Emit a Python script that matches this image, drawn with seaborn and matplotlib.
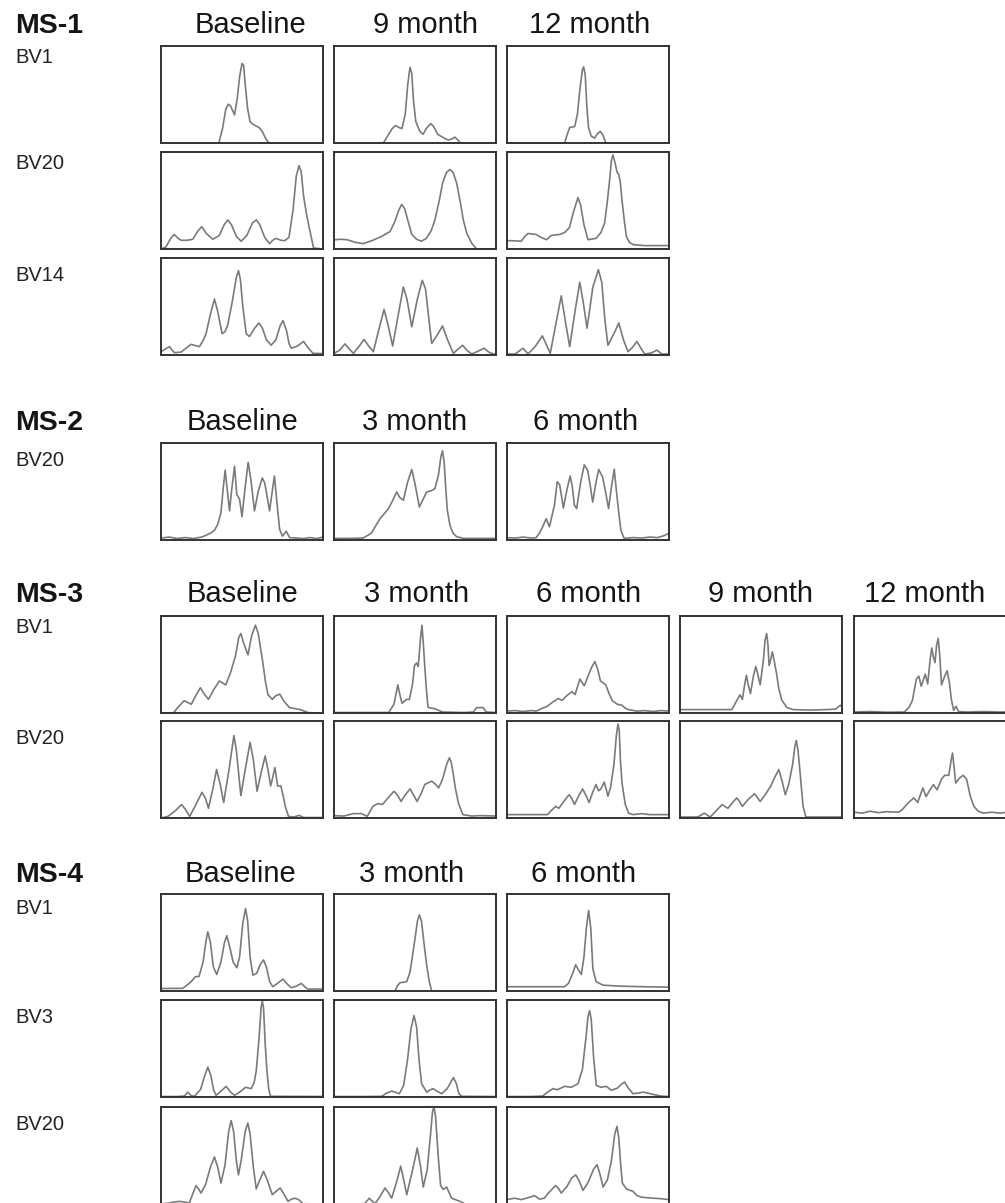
import matplotlib
matplotlib.use("Agg")
import matplotlib.pyplot as plt
import seaborn as sns
import pandas as pd

# ---------------------------------------------------------------------------
# CDR3 spectratype traces, one list per panel.
# Each point is (position along the panel in %, relative signal in %).
# ---------------------------------------------------------------------------

# MS-1
MS1_BV1_BASELINE = [(0, 0), (35.7, 0), (38, 15), (40, 35), (41.6, 40), (43, 38), (45.4, 29), (47, 45),
                    (48.5, 68), (50, 82), (51, 80), (52, 60), (53.5, 35), (55, 22), (57, 19), (60.5, 16),
                    (62.5, 12), (64.5, 5), (66.6, 0), (100, 0)]
MS1_BV1_9M = [(0, 0), (30.5, 0), (33, 7), (36, 15), (38, 18), (40, 16), (42, 15), (44, 30), (45.5, 60),
              (46.9, 78), (48, 72), (49, 45), (50.5, 22), (53, 12), (55, 9), (57, 15), (59.7, 20), (61.5, 17),
              (64, 9), (67, 6), (70.5, 3), (72.5, 4), (74.7, 6), (76.5, 3), (78, 0), (100, 0)]
MS1_BV1_12M = [(0, 0), (35.6, 0), (37, 8), (38.7, 16), (41.8, 17), (43.5, 30), (45, 55), (46.5, 75),
               (47.3, 78.5), (48.3, 70), (49.2, 40), (50.3, 16), (52, 7), (54, 5), (56, 10), (57.6, 12),
               (59.3, 8), (61, 0), (100, 0)]
MS1_BV20_BASELINE = [(0, 0), (3, 2), (6, 11), (8.2, 15), (10.5, 11), (12.4, 9), (16, 9), (19.6, 10), (22.5, 18),
                     (25.2, 23), (28, 16), (32, 10), (36, 14), (39, 25), (41.2, 30), (43.5, 25), (46.5, 13),
                     (49.5, 8), (53, 14), (56.5, 27), (58.8, 30), (61, 25), (64, 12), (67, 5.5), (69, 9),
                     (71, 11), (74, 9), (76.3, 8.6), (79, 12), (81.5, 40), (83.5, 75), (85.2, 86), (86.5, 80),
                     (88, 55), (89.7, 37), (92, 18), (94.2, 1), (100, 0)]
MS1_BV20_9M = [(0, 9.5), (4, 10), (8, 9.6), (13, 7), (18, 5.5), (24, 9), (29.4, 13), (34.6, 18), (37.5, 28),
               (40, 40), (41.8, 46), (43.5, 42), (46, 27), (48, 15), (51, 10), (54, 8), (57, 11), (60, 19),
               (62.3, 30), (65, 50), (67, 68), (69.5, 79), (71.6, 82), (73.5, 79), (75.7, 68), (78, 48),
               (79.8, 30), (82, 16), (85, 6), (88, 0), (100, 0)]
MS1_BV20_12M = [(0, 8.6), (4, 8.5), (8.8, 8), (11, 13), (13, 16), (15.5, 15.5), (18, 15), (21, 12), (24.3, 9.6),
                (27.4, 14), (32.5, 15), (35.6, 17), (38.5, 22), (41, 38), (43.8, 53), (45.5, 45), (47.5, 25),
                (50, 9.6), (55, 11), (58, 17), (60.3, 27), (62, 50), (63.4, 72), (64.5, 92), (65.4, 97),
                (66.5, 90), (68, 79), (69, 77), (70, 68), (71, 50), (72.5, 28), (73.7, 13), (75.5, 7),
                (77.8, 4.5), (85, 3.5), (100, 3.5)]
MS1_BV14_BASELINE = [(0, 3.4), (2.5, 6), (5.2, 8.6), (8.2, 2.4), (12.4, 3), (15.5, 7), (18.6, 11), (20.6, 10),
                     (23.7, 8.6), (26, 15), (27.8, 22), (30.5, 42), (33, 57.6), (35, 45), (37.7, 22), (39.5, 24),
                     (41.2, 31), (44, 55), (46.5, 80), (47.8, 87), (49, 78), (50.5, 50), (52.6, 22), (54.6, 19),
                     (57.5, 27), (60.4, 33), (62.5, 28), (65, 16), (68, 10), (71, 16), (73.5, 30), (75.3, 35.5),
                     (77.5, 25), (79, 12), (80.4, 7), (84, 9), (88, 14), (91, 7), (93.8, 1.7), (100, 1.5)]
MS1_BV14_9M = [(0, 1.7), (3.5, 5), (6.8, 11.4), (9.5, 6), (12, 1.7), (15.5, 9), (18.5, 16), (21.5, 9), (24.3, 3.4),
               (27.5, 25), (30.9, 47), (33.5, 30), (36.2, 9.3), (39.5, 40), (42.8, 70), (45, 58), (48, 29),
               (51.5, 58), (54.5, 77), (56.5, 68), (58.5, 38), (60.3, 12), (63.5, 20), (67, 30), (70, 16),
               (73.7, 1.7), (76.5, 6), (79.4, 10), (82, 5), (85, 1), (89, 4), (92.6, 7), (95.5, 3), (98.4, 1),
               (100, 1)]
MS1_BV14_12M = [(0, 1), (5, 1), (9.9, 7), (13, 1), (17.5, 9), (21.8, 19.7), (24.5, 10), (26.7, 1.7), (30.5, 35),
                (33.5, 61), (36, 35), (38.7, 8.6), (42, 45), (44.9, 75), (47, 55), (49.4, 27.6), (53, 70),
                (56.4, 88), (58.5, 75), (60.5, 35), (62.3, 10), (66, 22), (69, 33), (72, 15), (74.7, 3.4),
                (77.5, 8), (80.2, 14), (83, 6), (85, 1), (89, 2), (92.6, 5), (95.5, 1), (100, 1)]

# MS-2
MS2_BV20_BASELINE = [(0, 2), (5, 3), (10, 1.5), (15, 2.5), (20, 1.5), (25, 3), (28, 5), (31, 7.5), (33, 10),
                     (35, 16), (37, 28), (38.5, 55), (39.6, 72), (41, 50), (42.3, 30), (43.5, 50), (45.4, 76),
                     (46.8, 47), (48.5, 42), (50, 24), (52, 55), (53.8, 80), (55.5, 62), (57.7, 30), (60, 50),
                     (62.5, 64), (64, 59), (65.5, 45), (67, 30), (68.5, 48), (70, 66), (71.5, 40), (73.2, 11),
                     (75, 4), (77.3, 9), (79.4, 2.4), (84, 2), (88, 1.5), (92, 2.5), (96, 1.5), (100, 3)]
MS2_BV20_3M = [(0, 1.7), (10, 1.7), (18, 2), (23, 7), (28.4, 22), (33.5, 32), (36, 40), (38.7, 49.5), (40.5, 44),
               (42.8, 41), (45.5, 60), (48, 72.7), (50, 58), (52.7, 34), (55, 42), (57.2, 49.5), (60.3, 51),
               (62.3, 53), (64.4, 66.5), (66, 86), (67, 92), (68, 80), (69, 53), (70, 30), (71.6, 15),
               (73.5, 7), (75.7, 3.4), (80, 1.7), (100, 1.7)]
MS2_BV20_6M = [(0, 2.4), (5, 2), (10, 3), (15, 2), (18, 2.4), (20, 7), (22, 13.6), (24.2, 22), (26.2, 13.6),
               (29.3, 36), (31, 60), (32.5, 57), (34.8, 33), (37, 52), (39, 66), (40.3, 55), (41.6, 36),
               (43, 32.4), (45.5, 60), (47.7, 77.5), (49.8, 71.7), (51.5, 55), (52.9, 39), (55, 60),
               (56.6, 72.7), (59, 65), (61, 48), (62.7, 32.4), (64.5, 55), (66.2, 73), (67.6, 49.5), (69, 28),
               (70.3, 10), (72.3, 1.7), (78, 2.5), (83, 2), (88, 3), (93, 2.5), (97, 4.5), (100, 7)]

# MS-3
MS3_BV1_BASELINE = [(0, 0), (7.7, 0), (10.5, 6), (14.3, 12.7), (18.7, 9), (21.5, 18), (24.3, 26), (26.5, 20),
                    (29.3, 14), (32.5, 24), (36, 33), (40, 29), (43, 42), (46, 59), (48, 78), (49.3, 82),
                    (51, 72), (53.7, 60), (56, 80), (58.3, 90.5), (60, 82), (62.7, 54), (64.5, 32), (66, 19),
                    (68.7, 14), (71, 18), (73.3, 19.4), (76, 12), (79.3, 5.6), (86, 3.5), (91, 0.3), (100, 0)]
MS3_BV1_3M = [(0, 0.5), (20, 0.5), (33.8, 0.5), (37, 9), (39.4, 29), (40.5, 20), (42, 10), (44.7, 14), (46.5, 14),
              (48.5, 30), (49.7, 49), (51, 51.6), (52, 48), (53.3, 75), (54.3, 90.5), (55.2, 70), (56, 49),
              (57, 25), (58, 6), (60, 5), (62, 4.6), (67, 1), (80, 0.5), (86, 1), (88, 5.6), (92, 5.6),
              (94, 1), (100, 0.5)]
MS3_BV1_6M = [(0, 2), (5, 2.5), (10, 1.5), (15, 2.5), (18, 2), (22, 5), (25, 7), (28, 11), (31.7, 15), (34, 13),
              (37, 18), (40, 22), (42, 19), (45, 35), (47.7, 28), (50.5, 40), (52.5, 48), (54.3, 53), (56, 45),
              (57.7, 33), (61, 29), (63, 20), (65, 12.7), (68, 9), (71, 8), (73, 5), (75, 3.5), (80, 2),
              (85, 2.5), (90, 1.5), (95, 2.5), (100, 2)]
MS3_BV1_9M = [(0, 3.5), (15, 3.5), (32, 3.5), (35, 12.7), (37, 18.7), (38.5, 14), (40, 30), (41, 39), (42, 30),
              (43.5, 20), (45.3, 38), (46.8, 48), (48, 40), (49.5, 29), (51.5, 55), (52.5, 75), (53.5, 82),
              (54.3, 70), (55, 49), (56, 55), (57, 63), (58, 55), (59.5, 41.7), (61, 25), (62.8, 13.4),
              (66, 5.6), (70, 3.5), (80, 3), (90, 3.5), (96, 4), (99, 8), (100, 6)]
MS3_BV1_12M = [(0, 1), (10, 1.5), (20, 0.8), (31, 1), (34, 6), (36, 12.7), (38.5, 35), (40, 38), (41.5, 27.6),
               (44, 40), (45.5, 30), (47, 55), (48, 67), (49, 58), (50, 52), (51, 70), (52, 77), (53, 58),
               (54, 29), (56, 38), (57.5, 43.5), (59, 30), (60, 15), (61.5, 2.8), (63, 7), (64.5, 1.5),
               (70, 1), (80, 1.5), (90, 1), (100, 1.5)]
MS3_BV20_BASELINE = [(0, 0), (4.3, 1.7), (8.5, 7), (12.7, 13.8), (15, 9), (17.7, 1.7), (21, 12), (25.3, 26.5),
                     (27.5, 20), (29.3, 10), (32, 30), (34.3, 50), (36.5, 35), (38.7, 16), (42, 50), (45, 85),
                     (46.5, 70), (49.3, 23), (52, 50), (55, 78), (57, 60), (59.3, 27.6), (62, 48), (64.3, 64),
                     (66, 50), (67.7, 33), (69, 42), (70.3, 52), (71.2, 42), (72, 33), (74, 33), (75.5, 22),
                     (76.7, 12), (78.7, 1.7), (82, 1), (85.3, 2.8), (88, 0.5), (100, 0.5)]
MS3_BV20_3M = [(0, 2.4), (6, 2), (12, 4.5), (17, 4.5), (20.5, 1.7), (24, 12), (27, 14.8), (30, 14), (33, 20),
               (37, 27.6), (39, 24), (41.4, 17), (44, 24), (47, 30), (49, 24), (51.3, 17), (54, 26), (56, 34.5),
               (60.3, 38), (62.5, 35), (64.6, 31), (67, 40), (69.5, 55), (71.2, 62), (72.3, 58), (73.5, 46.5),
               (75, 30), (76.8, 15.5), (79.5, 3.5), (85, 2), (90, 2.5), (100, 2)]
MS3_BV20_6M = [(0, 3.5), (10, 3.5), (20, 3.5), (25, 3.5), (27.5, 8), (30, 12), (32, 10), (35, 17), (38.3, 24),
               (40, 20), (41.7, 14), (44, 22), (46.7, 30), (48.5, 24), (50.7, 16), (53, 27), (55, 34.5),
               (56.5, 28), (58, 30), (60, 37), (61.2, 30), (62.3, 22.4), (64, 32), (66, 55), (67.5, 85),
               (68.5, 97), (69.3, 90), (70, 60), (71, 36), (73, 14), (75, 5), (78, 3.5), (83, 4.5), (88, 3.5),
               (100, 3.5)]
MS3_BV20_9M = [(0, 1), (11, 1), (15, 5), (18.6, 1), (21, 5), (23, 8.6), (26, 13.8), (29.6, 10), (32.5, 16),
               (35, 20.7), (36.8, 17), (38.5, 12), (42, 19), (46, 25), (47.8, 21), (49.5, 17), (53, 25),
               (56, 33), (58.5, 42), (61, 50), (63, 38), (65, 24), (67, 34), (69.5, 55), (71, 75), (71.8, 80),
               (72.8, 70), (73.8, 53), (75, 30), (76, 12), (77.7, 1), (100, 1)]
MS3_BV20_12M = [(0, 6), (5, 5), (10, 7), (15, 5.5), (20, 6.5), (27.6, 6), (30, 9), (32.5, 13.8), (35, 18),
                (37, 20.7), (39.3, 16), (42.5, 31), (44.5, 22), (46.5, 28), (49, 34.5), (51.3, 29), (54, 40),
                (56, 44), (58.5, 44), (60, 60), (60.8, 67), (61.8, 52), (62.8, 36), (65, 41), (67.4, 44),
                (69.5, 40), (71.8, 22.4), (74, 12), (76.7, 7), (80, 5), (85, 6), (90, 5), (95, 6), (100, 5)]

# MS-4
MS4_BV1_BASELINE = [(0, 2.5), (7, 2.7), (13.4, 2.7), (16, 6), (18.6, 9.6), (21.2, 14.7), (23.5, 15), (26, 30),
                    (27.8, 52), (28.9, 61), (30.5, 50), (32.3, 25), (34.4, 17), (37, 30), (39.2, 50), (40.6, 57),
                    (42.5, 45), (44.5, 30), (46.8, 24), (48.5, 35), (50.5, 70), (52.2, 85), (53.5, 72), (55, 35),
                    (56.7, 16.4), (59, 18), (61.5, 28), (63.3, 32), (65.2, 24), (67, 10), (69, 4.4), (72, 8),
                    (75.3, 12.3), (78, 7), (80.4, 3.4), (83.5, 5), (86.6, 7.8), (89, 4), (90.7, 2), (100, 2)]
MS4_BV1_3M = [(0, 0), (37.7, 0), (39, 5), (40.7, 8.5), (44.9, 9.6), (47, 20), (49.5, 48), (51.5, 72), (52.7, 78.5),
              (54, 72), (55.5, 50), (57.2, 26.6), (58.8, 10), (60.3, 0), (100, 0)]
MS4_BV1_6M = [(0, 4.4), (20, 4.4), (35.6, 4.4), (38, 8), (40.5, 18), (42.4, 27), (44, 22), (45.9, 17), (47.5, 35),
              (49, 65), (50.4, 83), (51.7, 65), (53, 23), (55, 9.6), (59.3, 6), (70, 5), (85, 4.4), (100, 4)]
MS4_BV3_BASELINE = [(0, 0.5), (10, 0.5), (14.4, 1), (16.5, 5), (18.5, 1.5), (20.6, 0.7), (24.5, 8), (27, 22),
                    (28.9, 30.8), (30.8, 22), (32.5, 7), (34, 1.7), (37, 6), (40.2, 11), (43, 5), (45.4, 1.7),
                    (48.5, 5), (52.2, 10), (55.7, 8.6), (57.5, 15), (58.8, 27), (60.5, 60), (61.8, 92), (62.5, 99),
                    (63.3, 92), (64.3, 55), (65.4, 27), (66.5, 8), (67.6, 0.7), (100, 0.5)]
MS4_BV3_3M = [(0, 0.5), (20, 0.5), (29.4, 0.7), (32.5, 4), (35.6, 6), (38, 5), (40.3, 3.4), (43, 12), (45.5, 40),
              (47.5, 70), (49.4, 84), (51, 72), (52.5, 38), (54.1, 13.7), (57.2, 5), (59.5, 7.5), (61.3, 8.6),
              (63.5, 6), (66.5, 3.4), (70, 9), (73.7, 20), (75.5, 14), (77, 4), (78.8, 0.7), (100, 0.5)]
MS4_BV3_6M = [(0, 0.5), (15, 0.5), (22, 1), (25, 5), (28.4, 8.6), (31, 7.5), (33, 9), (35.6, 11), (39.7, 10),
              (43.8, 13.7), (46.5, 28), (48.8, 62), (50, 83), (51, 89), (52, 80), (53.5, 40), (55.1, 12), (58, 10),
              (61.3, 11), (64.4, 7), (68, 9), (70.5, 13), (72.6, 15.4), (75, 9), (77.8, 3.4), (81, 4), (84, 5),
              (87, 4), (90, 2.7), (95, 1), (100, 0.5)]
MS4_BV20_BASELINE = [(0, 0), (5, 1), (8, 2), (11.3, 2.7), (14.5, 2), (17.5, 1), (19.5, 10), (21.6, 19), (23, 16),
                     (24.7, 11.3), (27.5, 20), (30.5, 38), (33, 48.5), (35, 38), (37, 21.6), (39.5, 40),
                     (41.8, 75), (43.3, 86), (44.8, 75), (46.5, 45), (47.8, 30), (49.5, 45), (52, 75), (53.6, 83.5),
                     (55, 72), (57, 38), (58.8, 15.5), (61, 25), (63.3, 33.7), (65.5, 25), (68.7, 9.6), (71, 13),
                     (73.6, 16.5), (76, 10), (78.4, 2.7), (80.5, 5), (82.5, 6), (85, 4.5), (87.6, 0.3), (100, 0)]
MS4_BV20_3M = [(0, 0), (15, 0), (19, 0.5), (21.8, 6), (23.5, 3), (25.3, 0.3), (28.5, 8), (31.5, 16.5), (33.5, 12),
               (35.6, 6), (38.5, 22), (41.2, 39), (43, 25), (44.9, 9.6), (48.5, 35), (51.4, 57.7), (53.3, 40),
               (55.1, 17.5), (57.5, 35), (59.5, 70), (60.8, 95), (61.7, 100), (62.7, 90), (64.3, 50), (65.8, 19),
               (67.5, 15), (69.5, 17.5), (71, 12), (72.6, 6), (77.8, 2.7), (80.9, 0), (100, 0)]
MS4_BV20_6M = [(0, 4.5), (4.7, 6), (8.8, 4.5), (13, 6.5), (17, 8.6), (20, 5), (23, 6), (26.5, 13), (30, 19),
               (31.8, 16), (33.5, 11.3), (37, 18), (40, 27), (42.4, 30), (44.5, 24), (46.9, 14), (50, 22),
               (53.5, 36), (55.6, 40.5), (57.5, 30), (59.3, 17.5), (62, 25), (64.5, 45), (66.5, 72), (67.9, 80),
               (69, 68), (70.2, 40), (71.2, 21.6), (73.7, 15.5), (77.8, 13), (80, 9), (82.9, 7), (90, 6),
               (95, 5.5), (100, 4.5)]

# Column titles and row labels per patient
MS1_TIMES = ["Baseline", "9 month", "12 month"]
MS2_TIMES = ["Baseline", "3 month", "6 month"]
MS3_TIMES = ["Baseline", "3 month", "6 month", "9 month", "12 month"]
MS4_TIMES = ["Baseline", "3 month", "6 month"]
MS1_FAMILIES = ["BV1", "BV20", "BV14"]
MS2_FAMILIES = ["BV20"]
MS3_FAMILIES = ["BV1", "BV20"]
MS4_FAMILIES = ["BV1", "BV3", "BV20"]

# ---------------------------------------------------------------------------
# Layout (pixel units on a 1005 x 1203 canvas)
# ---------------------------------------------------------------------------
W, H = 1005, 1203
COL_X = [161, 334, 507, 680, 854]
PANEL_W, PANEL_H = 162, 97

BLOCKS = [
    dict(name="MS-1", baseline=33, times=MS1_TIMES, title_dx=[8, 10, 2],
         families=MS1_FAMILIES, tops=[46, 152, 258], label_base=[63, 169, 281],
         traces=[[MS1_BV1_BASELINE, MS1_BV1_9M, MS1_BV1_12M],
                 [MS1_BV20_BASELINE, MS1_BV20_9M, MS1_BV20_12M],
                 [MS1_BV14_BASELINE, MS1_BV14_9M, MS1_BV14_12M]]),
    dict(name="MS-2", baseline=430, times=MS2_TIMES, title_dx=[0, 0, -2],
         families=MS2_FAMILIES, tops=[443], label_base=[466],
         traces=[[MS2_BV20_BASELINE, MS2_BV20_3M, MS2_BV20_6M]]),
    dict(name="MS-3", baseline=602, times=MS3_TIMES, title_dx=[0, 2, 1, -1, -10],
         families=MS3_FAMILIES, tops=[616, 721], label_base=[633, 744],
         traces=[[MS3_BV1_BASELINE, MS3_BV1_3M, MS3_BV1_6M, MS3_BV1_9M, MS3_BV1_12M],
                 [MS3_BV20_BASELINE, MS3_BV20_3M, MS3_BV20_6M, MS3_BV20_9M, MS3_BV20_12M]]),
    dict(name="MS-4", baseline=882, times=MS4_TIMES, title_dx=[-2, -3, -4],
         families=MS4_FAMILIES, tops=[894, 1000, 1107], label_base=[914, 1023, 1130],
         traces=[[MS4_BV1_BASELINE, MS4_BV1_3M, MS4_BV1_6M],
                 [MS4_BV3_BASELINE, MS4_BV3_3M, MS4_BV3_6M],
                 [MS4_BV20_BASELINE, MS4_BV20_3M, MS4_BV20_6M]]),
]

TRACE_COLOR = "#7a7a7a"
FRAME_COLOR = "#333333"
TEXT_COLOR = "#151515"

sns.set_style("white")
plt.rcParams["font.family"] = ["Liberation Sans", "DejaVu Sans"]

fig = plt.figure(figsize=(W / 100, H / 100), dpi=100)


def fx(px):
    return px / W


def fy(py):
    return 1 - py / H


for block in BLOCKS:
    # patient label and time-point titles
    fig.text(fx(15), fy(block["baseline"]), block["name"], fontsize=20.5, fontweight="bold",
             color=TEXT_COLOR, ha="left", va="baseline")
    for c, (title, dx) in enumerate(zip(block["times"], block["title_dx"])):
        fig.text(fx(COL_X[c] + PANEL_W / 2 + dx), fy(block["baseline"]), title, fontsize=21,
                 color=TEXT_COLOR, ha="center", va="baseline")

    for r, family in enumerate(block["families"]):
        top = block["tops"][r]
        fig.text(fx(15), fy(block["label_base"][r]), family, fontsize=14.5,
                 color="#222222", ha="left", va="baseline")
        for c, trace in enumerate(block["traces"][r]):
            ax = fig.add_axes([fx(COL_X[c]), fy(top + PANEL_H), PANEL_W / W, PANEL_H / H])
            df = pd.DataFrame(trace, columns=["position", "signal"])
            sns.lineplot(data=df, x="position", y="signal", ax=ax, color=TRACE_COLOR,
                         linewidth=1.2, estimator=None, sort=False,
                         solid_joinstyle="round", solid_capstyle="round")
            ax.set_xlim(0, 100)
            ax.set_ylim(0, 100)
            ax.set(xticks=[], yticks=[], xlabel="", ylabel="")
            for spine in ax.spines.values():
                spine.set_visible(True)
                spine.set_color(FRAME_COLOR)
                spine.set_linewidth(1.4)

fig.savefig("out.png", dpi=100, facecolor="white")
